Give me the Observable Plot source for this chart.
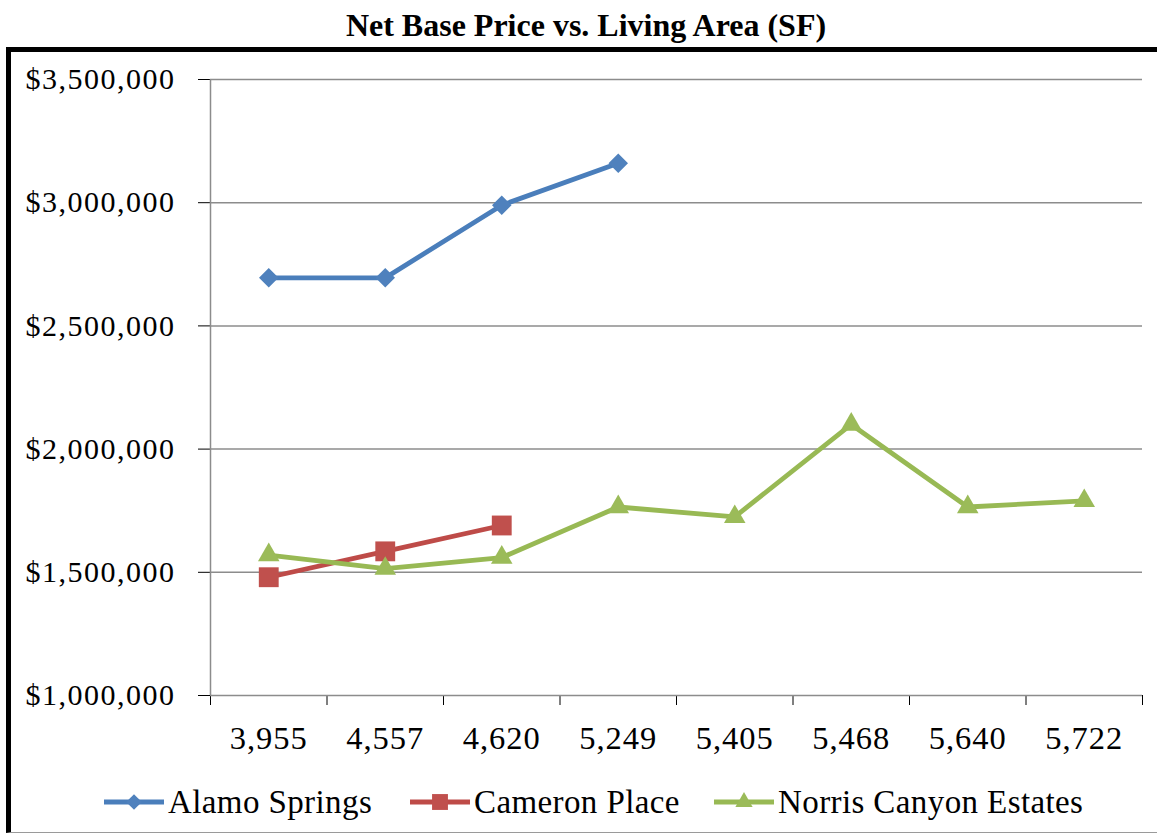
<!DOCTYPE html>
<html>
<head>
<meta charset="utf-8">
<script src="https://cdn.jsdelivr.net/npm/d3@7"></script>
<script src="https://cdn.jsdelivr.net/npm/@observablehq/plot@0.6"></script>
<style>
  html, body { margin: 0; padding: 0; background: #fff; }
  body { width: 1157px; height: 835px; position: relative; overflow: hidden; font-family: "Liberation Serif", "Times New Roman", serif; color: #000; }
  #title { position: absolute; top: 9px; left: 10px; width: 1152px; text-align: center; font-weight: bold; font-size: 32px; line-height: 32px; }
  #frame { position: absolute; top: 47px; left: 6px; width: 1170px; height: 780px; border-top: 5px solid #000; border-left: 5px solid #000; border-bottom: 1.5px solid #9a9a9a; }
  #chart { position: absolute; top: 52px; left: 0; }
  #chart [aria-label^="x-axis"] line, #chart [aria-label^="y-axis"] line { stroke: #8c8c8c; stroke-width: 1.5px; }
  #chart [aria-label^="x-axis"] text, #chart [aria-label^="y-axis"] text { fill: #000; }
  #chart [aria-label^="y-axis"] text { letter-spacing: 1.5px; }
  #legend { position: absolute; top: 780px; left: 0; width: 1157px; height: 44px; font-size: 33px; letter-spacing: 0.4px; }
  .item { position: absolute; top: 0; height: 44px; display: flex; align-items: center; white-space: nowrap; }
  .item svg { margin-right: 4px; }
</style>
</head>
<body>
<div id="title">Net Base Price vs. Living Area (SF)</div>
<div id="frame"></div>
<div id="chart"></div>
<div id="legend"></div>
<script>
// Living area categories (square feet)
const categories = ["3,955", "4,557", "4,620", "5,249", "5,405", "5,468", "5,640", "5,722"];

// Net base price per community, in category order
const alamoSprings = [2695000, 2695000, 2990000, 3160000];
const cameronPlace = [1480000, 1585000, 1690000];
const norrisCanyon = [1570000, 1515000, 1560000, 1765000, 1725000, 2100000, 1765000, 1790000];

const seriesNames = ["Alamo Springs", "Cameron Place", "Norris Canyon Estates"];
const lineColors = ["#4a7ebb", "#be4b48", "#98b954"];
const markerColors = ["#4f81bd", "#c0504d", "#9bbb59"];
const markerSymbols = ["diamond2", "square", "triangle"];
const markerRadii = [8.8, 11.2, 8];

const yTicks = [1000000, 1500000, 2000000, 2500000, 3000000, 3500000];

const seriesValues = [alamoSprings, cameronPlace, norrisCanyon];
const rows = seriesValues.flatMap((vals, s) =>
  vals.map((v, i) => ({series: seriesNames[s], s, i, value: v}))
);

const money = d => "$" + d3.format(",")(d);

const chart = Plot.plot({
  width: 1157,
  height: 700,
  marginLeft: 210,
  marginRight: 15,
  marginTop: 27,
  marginBottom: 57,
  style: {background: "transparent", fontFamily: "'Liberation Serif', 'Times New Roman', serif", fontSize: "30px", color: "#000", overflow: "visible"},
  x: {domain: [0, categories.length], ticks: d3.range(categories.length + 1), tickSize: 10, tickFormat: () => "", label: null},
  y: {domain: [1000000, 3500000], ticks: yTicks, tickSize: 12, tickPadding: 23, tickFormat: money, label: null},
  marks: [
    Plot.ruleY(yTicks, {stroke: "#8c8c8c", strokeWidth: 1.5}),
    Plot.ruleX([0], {stroke: "#8c8c8c", strokeWidth: 1.5}),
    Plot.text(categories, {x: (d, i) => i + 0.5, y: () => 1000000, text: d => d, dy: 43, fontSize: 32.5, fill: "#000"}),
    ...seriesNames.map((name, s) =>
      Plot.line(rows.filter(r => r.s === s), {x: d => d.i + 0.5, y: "value", stroke: lineColors[s], strokeWidth: 4.8, strokeLinejoin: "round", strokeLinecap: "round"})
    ),
    ...seriesNames.map((name, s) =>
      Plot.dot(rows.filter(r => r.s === s), {x: d => d.i + 0.5, y: "value", symbol: () => markerSymbols[s], r: markerRadii[s], fill: markerColors[s], stroke: "none"})
    )
  ],
  symbol: {type: "identity"}
});
// category labels: a little extra tracking
chart.querySelectorAll('g[aria-label="text"] text').forEach(t => t.style.letterSpacing = "1px");
document.getElementById("chart").appendChild(chart);

// Legend: line sample with marker, then the series name
const legendLefts = [104, 410, 714];
const legend = d3.select("#legend");
seriesNames.forEach((name, s) => {
  const item = legend.append("div").attr("class", "item").style("left", legendLefts[s] + "px");
  const svg = item.append("svg").attr("width", 60).attr("height", 30);
  svg.append("line").attr("x1", 0).attr("x2", 60).attr("y1", 15).attr("y2", 15)
    .attr("stroke", lineColors[s]).attr("stroke-width", 4.8);
  const sym = {diamond2: d3.symbolDiamond2, square: d3.symbolSquare, triangle: d3.symbolTriangle}[markerSymbols[s]];
  const size = Math.PI * Math.pow(markerRadii[s] * 0.8, 2);
  svg.append("path").attr("transform", "translate(30,15)")
    .attr("d", d3.symbol(sym, size)()).attr("fill", markerColors[s]);
  item.append("span").text(name);
});
</script>
</body>
</html>
